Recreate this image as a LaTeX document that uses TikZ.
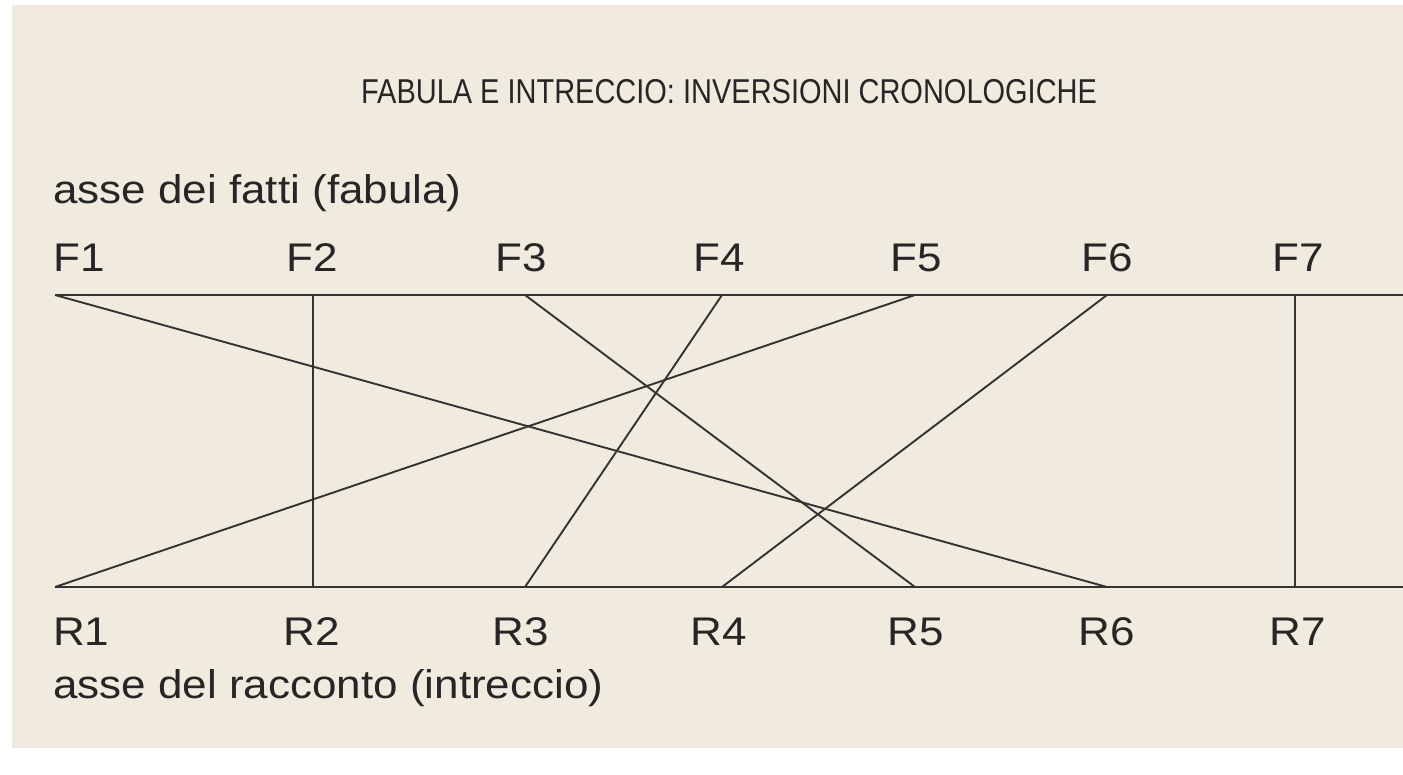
\documentclass[tikz,border=0pt]{standalone}
\usepackage{fontspec}
\setmainfont{Liberation Sans}[FakeStretch=1.1]
\newfontfamily\titlefont{Liberation Sans}[FakeStretch=0.84]
\definecolor{paper}{HTML}{F1EBDF}
\definecolor{ink}{HTML}{262626}
\definecolor{rule}{HTML}{333333}
\tikzset{
  lbl/.style={text=ink, inner sep=0pt, font=\fontsize{40}{46}\selectfont},
  axislbl/.style={lbl, anchor=west},
  link/.style={draw=rule, line width=1.9pt},
  axis/.style={draw=rule, line width=2.3pt}
}
\begin{document}
\begin{tikzpicture}[x=1pt,y=-1pt]
\useasboundingbox (0,0) rectangle (1403,774);
\fill[white] (0,0) rectangle (1403,774);
\fill[paper] (12,5) rectangle (1403,748);
% title
\node[text=ink, inner sep=0pt, font=\titlefont\fontsize{34.5}{40}\selectfont] (title) at (729,92) {FABULA E INTRECCIO: INVERSIONI CRONOLOGICHE};
\node[axislbl] (fab) at (53,193) {asse dei fatti (fabula)};
\node[axislbl] (intr) at (53,688) {asse del racconto (intreccio)};
% points and labels
\foreach \i/\x in {1/55,2/313,3/525,4/722,5/915,6/1107,7/1295}{
  \coordinate (F\i) at (\x,295);
  \coordinate (R\i) at (\x,587);
}
\node[lbl, anchor=west] (lF1) at (53,258) {F1};
\node[lbl, anchor=west] (lR1) at (53,632) {R1};
\foreach \i/\x in {2/312,3/521,4/719,5/916,6/1107,7/1298}{
  \node[lbl] (lF\i) at (\x,258) {F\i};
  \node[lbl] (lR\i) at (\x,632) {R\i};
}
\coordinate (Fend) at (1403,295);
\coordinate (Rend) at (1403,587);
% axes
\draw[axis] (F1) -- (Fend);
\draw[axis] (R1) -- (Rend);
% links
\draw[link] (F1) -- (R6);
\draw[link] (F2) -- (R2);
\draw[link] (F3) -- (R5);
\draw[link] (F4) -- (R3);
\draw[link] (F5) -- (R1);
\draw[link] (F6) -- (R4);
\draw[link] (F7) -- (R7);
\end{tikzpicture}
\end{document}
